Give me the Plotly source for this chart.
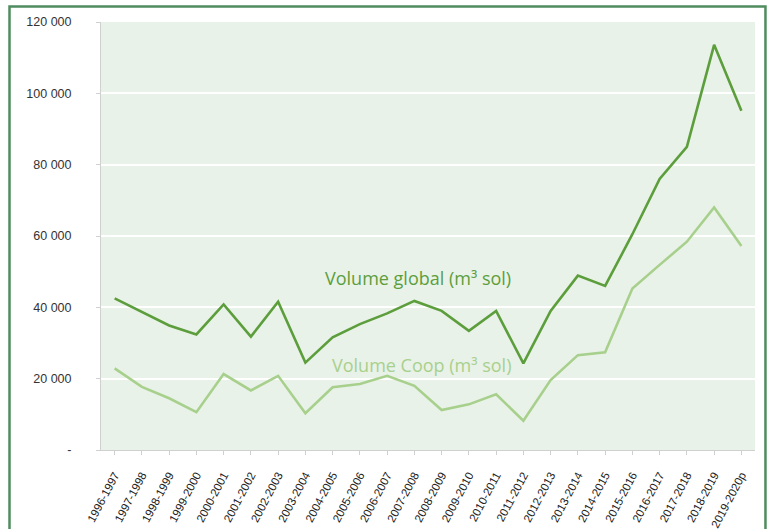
import plotly.graph_objects as go

seasons = ["1996-1997", "1997-1998", "1998-1999", "1999-2000", "2000-2001", "2001-2002",
           "2002-2003", "2003-2004", "2004-2005", "2005-2006", "2006-2007", "2007-2008",
           "2008-2009", "2009-2010", "2010-2011", "2011-2012", "2012-2013", "2013-2014",
           "2014-2015", "2015-2016", "2016-2017", "2017-2018", "2018-2019", "2019-2020p"]

volume_global = [42500, 38600, 34900, 32400, 40800, 31800, 41600, 24500, 31600, 35300,
                 38300, 41800, 39000, 33400, 39000, 24300, 39000, 48900, 46000, 60500,
                 76000, 85000, 113600, 95100]

volume_coop = [22900, 17700, 14500, 10600, 21300, 16700, 20800, 10300, 17600, 18500,
               20800, 18000, 11200, 12800, 15600, 8200, 19600, 26600, 27400, 45300,
               51900, 58400, 68000, 57200]

y_tickvals = [0, 20000, 40000, 60000, 80000, 100000, 120000]
y_ticktext = ["-", "20 000", "40 000", "60 000", "80 000", "100 000", "120 000"]

label_global = "Volume global (m³ sol)"
label_coop = "Volume Coop (m³ sol)"

col_global = "#5c9e3c"
col_coop = "#a8d08d"

fig = go.Figure()
fig.add_trace(go.Scatter(x=seasons, y=volume_coop, mode="lines",
                         line=dict(color=col_coop, width=2.6), name=label_coop))
fig.add_trace(go.Scatter(x=seasons, y=volume_global, mode="lines",
                         line=dict(color=col_global, width=2.6), name=label_global))

fig.add_annotation(x=11.15, y=48200, text=label_global, showarrow=False,
                   font=dict(family="Open Sans, sans-serif", size=18, color=col_global))
fig.add_annotation(x=11.25, y=23800, text=label_coop, showarrow=False,
                   font=dict(family="Open Sans, sans-serif", size=18, color=col_coop))

# outer frame
fig.add_shape(type="rect", xref="paper", yref="paper",
              x0=-0.1399, x1=1.016, y0=-0.3, y1=1.0362,
              line=dict(color="#4f8c5f", width=2.5), fillcolor="rgba(0,0,0,0)", layer="above")

fig.update_layout(
    width=770, height=529,
    margin=dict(l=101, r=15, t=22, b=79),
    paper_bgcolor="white",
    plot_bgcolor="#e9f2e8",
    showlegend=False,
    font=dict(family="Liberation Sans, Arial, sans-serif", size=12, color="#333333"),
)
fig.update_xaxes(
    type="category", range=[-0.5, 23.5], tickangle=-62, automargin=False,
    showgrid=False, showline=True, linecolor="#d0d0d0", linewidth=1,
    ticks="outside", ticklen=4, tickcolor="#d0d0d0", ticklabelstandoff=9,
    tickfont=dict(size=11.5, color="#222222"),
)
fig.update_yaxes(
    range=[0, 120000], tickvals=y_tickvals, ticktext=y_ticktext, automargin=False,
    showgrid=True, gridcolor="white", gridwidth=1.5,
    showline=True, linecolor="#d0d0d0", linewidth=1,
    ticks="outside", ticklen=4, tickcolor="#d0d0d0",
    ticklabelstandoff=22, zeroline=False,
    tickfont=dict(size=12.5, color="#333333"),
)

fig.write_html("out.html", config={"displayModeBar": False},
               post_script="document.body.style.margin='0';document.body.style.overflow='hidden';")
